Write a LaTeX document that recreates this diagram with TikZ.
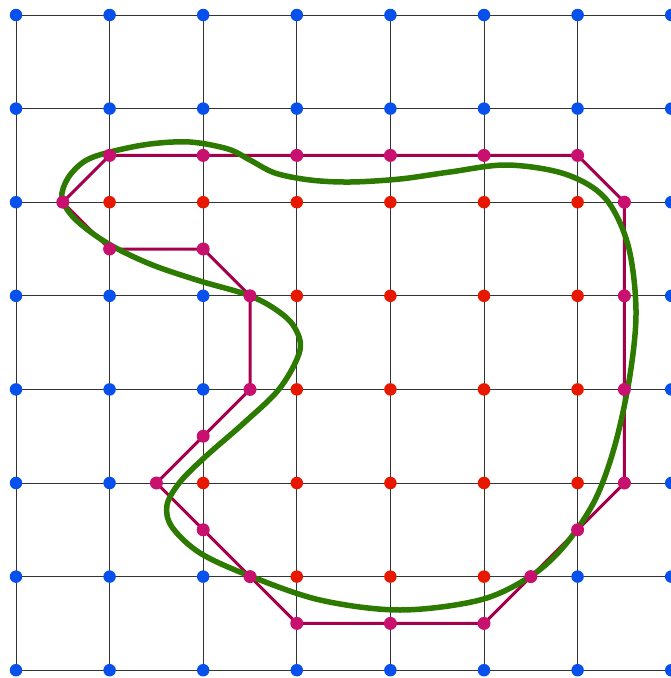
\documentclass[tikz,border=0pt]{standalone}
\definecolor{gblue}{RGB}{8,80,235}
\definecolor{gred}{RGB}{232,24,0}
\definecolor{pdot}{RGB}{200,16,110}
\definecolor{pline}{RGB}{165,0,75}
\definecolor{cgreen}{RGB}{45,122,0}
\tikzset{
  gridline/.style={draw=black!80, line width=1pt},
  bdot/.style={circle, fill=gblue, inner sep=0pt, minimum size=12.5pt},
  rdot/.style={circle, fill=gred, inner sep=0pt, minimum size=12.5pt},
  mdot/.style={circle, fill=pdot, inner sep=0pt, minimum size=13pt},
  polyline/.style={draw=pline, line width=3pt, line join=round},
  curve/.style={draw=cgreen, line width=5.5pt}
}
\begin{document}
\begin{tikzpicture}[x=1pt,y=-1pt]
\useasboundingbox (0,0) rectangle (671,678);
\clip (0,0) rectangle (671,678);
\foreach \i in {0,...,7}{
  \foreach \j in {0,...,7}{
    \coordinate (p-\i-\j) at ({16+93.6*\i},{15+93.6*\j});
  }
}
\foreach \k in {0,...,7}{
  \draw[gridline] (p-\k-0) -- (p-\k-7);
  \draw[gridline] (p-0-\k) -- (p-7-\k);
}
% exterior points
\foreach \i/\j in {0/0,1/0,2/0,3/0,4/0,5/0,6/0,7/0,
  0/1,1/1,2/1,3/1,4/1,5/1,6/1,7/1,
  0/2,7/2, 0/3,1/3,2/3,7/3, 0/4,1/4,2/4,7/4, 0/5,1/5,7/5,
  0/6,1/6,2/6,6/6,7/6,
  0/7,1/7,2/7,3/7,4/7,5/7,6/7,7/7}
  \node[bdot] (b-\i-\j) at (p-\i-\j) {};
% interior points
\foreach \i/\j in {1/2,2/2,3/2,4/2,5/2,6/2,
  3/3,4/3,5/3,6/3, 3/4,4/4,5/4,6/4, 2/5,3/5,4/5,5/5,6/5,
  3/6,4/6,5/6}
  \node[rdot] (r-\i-\j) at (p-\i-\j) {};
% boundary polygon vertices
\foreach \n/\a/\b in {1/1/1.5,2/2/1.5,3/3/1.5,4/4/1.5,5/5/1.5,6/6/1.5,
  7/6.5/2,8/6.5/3,9/6.5/4,10/6.5/5,11/6/5.5,12/5.5/6,13/5/6.5,
  14/4/6.5,15/3/6.5,16/2.5/6,17/2/5.5,18/1.5/5,19/2/4.5,20/2.5/4,
  21/2.5/3,22/2/2.5,23/1/2.5,24/0.5/2}
  \coordinate (v\n) at ({16+93.6*\a},{15+93.6*\b});
\draw[polyline] (v1) -- (v2) -- (v3) -- (v4) -- (v5) -- (v6) -- (v7) -- (v8)
  -- (v9) -- (v10) -- (v11) -- (v12) -- (v13) -- (v14) -- (v15) -- (v16)
  -- (v17) -- (v18) -- (v19) -- (v20) -- (v21) -- (v22) -- (v23) -- (v24) -- cycle;
\draw[curve] plot[smooth cycle, tension=0.55] coordinates {
  (62,198) (68,178) (85,161) (110,152) (150,144) (190,142) (228,149)
  (250,160) (275,173) (310,180) (350,182) (400,179) (450,172) (507,165) (565,174)
  (605,198) (628,245) (636,310) (630,375) (615,445) (595,500) (565,545)
  (531,576) (480,600) (400,610) (320,600) (250,576) (200,553) (172,527)
  (167,505) (180,482) (205,457) (245,422) (280,388) (300,350) (293,325)
  (272,307) (245,294) (200,281) (150,264) (107,243) (75,219)};
\foreach \n in {1,...,24}
  \node[mdot] (m\n) at (v\n) {};
\end{tikzpicture}
\end{document}
